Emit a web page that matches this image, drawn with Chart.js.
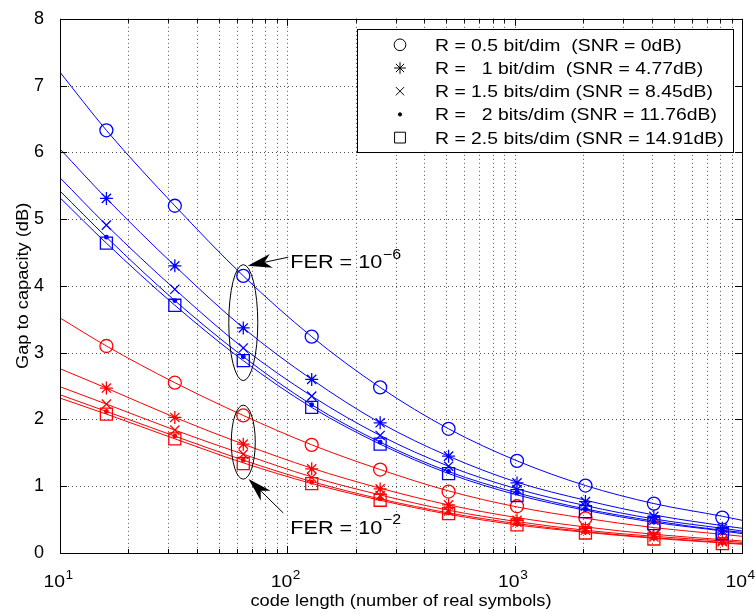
<!DOCTYPE html>
<html>
<head>
<meta charset="utf-8">
<script src="https://cdn.jsdelivr.net/npm/chart.js@4.4.1/dist/chart.umd.min.js"></script>
<style>
  body { margin: 0; background: #fff; }
  #wrap { width: 755px; height: 613px; }
</style>
</head>
<body>
<div id="wrap"><canvas id="gap" width="755" height="613"></canvas></div>
<script>
const ctxGap = document.getElementById("gap");

// simulated points (markers)
const codeLen = [16, 32, 64, 128, 256, 512, 1024, 2048, 4096, 8192];
// approximation curves, read at these lengths
const curveLen = [10, 16, 32, 64, 128, 256, 512, 1024, 2048, 4096, 8192, 10000];

// FER = 1e-6 (blue)
const blue05 = [6.33, 5.20, 4.15, 3.24, 2.48, 1.86, 1.38, 1.01, 0.74, 0.53];
const blue10 = [5.31, 4.30, 3.37, 2.60, 1.95, 1.45, 1.05, 0.77, 0.55, 0.37];
const blue15 = [4.91, 3.95, 3.07, 2.35, 1.76, 1.30, 0.95, 0.70, 0.49, 0.33];
const blue20 = [4.73, 3.78, 2.94, 2.22, 1.66, 1.22, 0.90, 0.65, 0.46, 0.31];
const blue25 = [4.64, 3.71, 2.88, 2.18, 1.63, 1.19, 0.86, 0.62, 0.44, 0.29];
const blue05Curve = [7.20, 6.33, 5.20, 4.15, 3.24, 2.48, 1.86, 1.38, 1.01, 0.74, 0.55, 0.49];
const blue10Curve = [6.05, 5.31, 4.30, 3.37, 2.60, 1.95, 1.45, 1.06, 0.79, 0.57, 0.41, 0.37];
const blue15Curve = [5.62, 4.91, 3.95, 3.07, 2.35, 1.76, 1.30, 0.96, 0.71, 0.51, 0.37, 0.33];
const blue20Curve = [5.42, 4.73, 3.78, 2.94, 2.22, 1.66, 1.22, 0.90, 0.66, 0.48, 0.34, 0.31];
const blue25Curve = [5.32, 4.64, 3.71, 2.88, 2.18, 1.63, 1.19, 0.87, 0.64, 0.46, 0.33, 0.29];

// FER = 1e-2 (red)
const red05 = [3.10, 2.55, 2.06, 1.62, 1.25, 0.92, 0.70, 0.52, 0.39, 0.28];
const red10 = [2.47, 2.03, 1.63, 1.26, 0.96, 0.72, 0.49, 0.37, 0.27, 0.19];
const red15 = [2.23, 1.84, 1.48, 1.13, 0.86, 0.63, 0.46, 0.34, 0.24, 0.17];
const red20 = [2.12, 1.75, 1.39, 1.06, 0.81, 0.60, 0.43, 0.31, 0.22, 0.15];
const red25 = [2.08, 1.71, 1.34, 1.04, 0.79, 0.59, 0.42, 0.30, 0.21, 0.14];
const red05Curve = [3.52, 3.10, 2.55, 2.06, 1.62, 1.25, 0.93, 0.69, 0.52, 0.38, 0.28, 0.25];
const red10Curve = [2.76, 2.47, 2.03, 1.63, 1.27, 0.97, 0.72, 0.53, 0.39, 0.28, 0.20, 0.18];
const red15Curve = [2.49, 2.23, 1.84, 1.48, 1.14, 0.87, 0.64, 0.47, 0.34, 0.25, 0.18, 0.16];
const red20Curve = [2.37, 2.12, 1.75, 1.39, 1.07, 0.81, 0.60, 0.44, 0.32, 0.23, 0.16, 0.14];
const red25Curve = [2.32, 2.08, 1.71, 1.35, 1.04, 0.79, 0.58, 0.42, 0.31, 0.22, 0.15, 0.13];

const legendLabels = [
    "R = 0.5 bit/dim  (SNR = 0dB)",
    "R =   1 bit/dim  (SNR = 4.77dB)",
    "R = 1.5 bits/dim (SNR = 8.45dB)",
    "R =   2 bits/dim (SNR = 11.76dB)",
    "R = 2.5 bits/dim (SNR = 14.91dB)"
];
const markerStyles = ["circle", "star", "crossRot", "circle", "rect"];
const markerSizes = [6.5, 6.5, 6.5, 1.8, 8.5];

const yTicks = [0, 1, 2, 3, 4, 5, 6, 7, 8];
const xDecades = [1, 2, 3, 4];

const BLUE = "#0000ff";
const RED = "#ff0000";
const FONT = "'Liberation Sans', Arial, Helvetica, sans-serif";
const SX = 1.14; // the original's Helvetica runs wider than Liberation Sans

const toPoints = (xs, ys) => xs.map((x, i) => ({ x: x, y: ys[i] }));

const datasets = [];
const addGroup = (color, curves, marks) => {
    curves.forEach(c => {
        datasets.push({
            type: "line",
            data: toPoints(curveLen, c),
            borderColor: color,
            borderWidth: 1,
            pointRadius: 0,
            cubicInterpolationMode: "monotone",
            fill: false,
            order: 2
        });
    });
    marks.forEach((m, i) => {
        datasets.push({
            type: "line",
            data: toPoints(codeLen, m),
            showLine: false,
            pointStyle: markerStyles[i],
            pointRadius: markerSizes[i],
            pointBorderColor: color,
            pointBackgroundColor: i === 3 ? color : "rgba(0,0,0,0)",
            pointBorderWidth: 1.3,
            order: 1
        });
    });
};
addGroup(BLUE, [blue05Curve, blue10Curve, blue15Curve, blue20Curve, blue25Curve],
    [blue05, blue10, blue15, blue20, blue25]);
addGroup(RED, [red05Curve, red10Curve, red15Curve, red20Curve, red25Curve],
    [red05, red10, red15, red20, red25]);

// stretched text, left aligned at baseline
const text = (ctx, t, x, y, size) => {
    ctx.save();
    ctx.font = size + "px " + FONT;
    ctx.textAlign = "left";
    ctx.textBaseline = "alphabetic";
    ctx.translate(x, y);
    ctx.scale(SX, 1);
    ctx.fillText(t, 0, 0);
    ctx.restore();
};
const textWidth = (ctx, t, size) => {
    ctx.font = size + "px " + FONT;
    return ctx.measureText(t).width * SX;
};

// base with raised exponent
const drawPow = (ctx, x, y, base, exp, size, align) => {
    const es = Math.round(size * 0.72);
    const wb = textWidth(ctx, base, size);
    const we = textWidth(ctx, exp, es);
    const left = align === "center" ? x - (wb + we) / 2 : x;
    text(ctx, base, left, y, size);
    text(ctx, exp, left + wb + 0.5, y - size * 0.5, es);
};

const arrow = (ctx, x0, y0, x1, y1) => {
    // line from (x0,y0) to tip (x1,y1) with a filled head
    const ang = Math.atan2(y1 - y0, x1 - x0);
    const len = 24, half = 7, notch = 17;
    ctx.beginPath();
    ctx.moveTo(x0, y0);
    ctx.lineTo(x1 - Math.cos(ang) * notch, y1 - Math.sin(ang) * notch);
    ctx.lineWidth = 1;
    ctx.stroke();
    const bx = x1 - Math.cos(ang) * len, by = y1 - Math.sin(ang) * len;
    const nx = -Math.sin(ang), ny = Math.cos(ang);
    ctx.beginPath();
    ctx.moveTo(x1, y1);
    ctx.lineTo(bx + nx * half, by + ny * half);
    ctx.lineTo(x1 - Math.cos(ang) * notch, y1 - Math.sin(ang) * notch);
    ctx.lineTo(bx - nx * half, by - ny * half);
    ctx.closePath();
    ctx.fill();
};

const matlabAxes = {
    id: "matlabAxes",
    beforeDatasetsDraw(chart) {
        const { ctx, chartArea: a, scales: { x, y } } = chart;
        ctx.save();
        ctx.strokeStyle = "rgba(0,0,0,0.7)";
        ctx.lineWidth = 1;
        ctx.setLineDash([1, 3]);
        yTicks.slice(1, -1).forEach(v => {
            const py = Math.round(y.getPixelForValue(v)) + 0.5;
            ctx.beginPath(); ctx.moveTo(a.left, py); ctx.lineTo(a.right, py); ctx.stroke();
        });
        xDecades.slice(0, -1).forEach(d => {
            for (let k = 1; k <= 9; k++) {
                if (d === 1 && k === 1) continue;
                const px = Math.round(x.getPixelForValue(k * Math.pow(10, d))) + 0.5;
                ctx.beginPath(); ctx.moveTo(px, a.top); ctx.lineTo(px, a.bottom); ctx.stroke();
            }
        });
        ctx.restore();
    },
    afterDatasetsDraw(chart) {
        const { ctx, chartArea: a, scales: { x, y } } = chart;
        ctx.save();
        ctx.strokeStyle = "#000";
        ctx.fillStyle = "#000";
        ctx.lineWidth = 1;
        ctx.setLineDash([]);
        // box
        ctx.strokeRect(Math.round(a.left) + 0.5, Math.round(a.top) + 0.5,
            Math.round(a.right - a.left), Math.round(a.bottom - a.top));
        // inward ticks
        yTicks.forEach(v => {
            const py = Math.round(y.getPixelForValue(v)) + 0.5;
            ctx.beginPath();
            ctx.moveTo(a.left, py); ctx.lineTo(a.left + 7, py);
            ctx.moveTo(a.right, py); ctx.lineTo(a.right - 7, py);
            ctx.stroke();
        });
        xDecades.forEach(d => {
            for (let k = 1; k <= 9; k++) {
                const v = k * Math.pow(10, d);
                if (v > 10000) break;
                const px = Math.round(x.getPixelForValue(v)) + 0.5;
                const tl = k === 1 ? 7 : 4;
                ctx.beginPath();
                ctx.moveTo(px, a.bottom); ctx.lineTo(px, a.bottom - tl);
                ctx.moveTo(px, a.top); ctx.lineTo(px, a.top + tl);
                ctx.stroke();
            }
        });
        // x tick labels 10^n
        xDecades.forEach(d => {
            const px = x.getPixelForValue(Math.pow(10, d));
            drawPow(ctx, px - 2, a.bottom + 34, "10", String(d), 17, "center");
        });
        // axis titles
        const xt = "code length (number of real symbols)";
        text(ctx, xt, (a.left + a.right) / 2 - textWidth(ctx, xt, 16) / 2, 606, 16);
        const yt = "Gap to capacity (dB)";
        ctx.save();
        ctx.translate(28, (a.top + a.bottom) / 2);
        ctx.rotate(-Math.PI / 2);
        text(ctx, yt, -textWidth(ctx, yt, 16) / 2, 0, 16);
        ctx.restore();

        // legend
        const lx = a.right - 385, ly = a.top + 10, lw = 376, lh = 123;
        ctx.fillStyle = "#fff";
        ctx.fillRect(lx, ly, lw, lh);
        ctx.strokeRect(Math.round(lx) + 0.5, Math.round(ly) + 0.5, lw, lh);
        legendLabels.forEach((t, i) => {
            const ry = ly + 16 + i * 23.2;
            ctx.fillStyle = i === 3 ? "#000" : "rgba(0,0,0,0)";
            Chart.helpers.drawPoint(ctx, {
                pointStyle: markerStyles[i], radius: markerSizes[i] * 0.9,
                rotation: 0, borderWidth: 1
            }, lx + 43, ry);
            ctx.fillStyle = "#000";
            text(ctx, t, lx + 78, ry + 6, 17);
        });

        // annotations: ellipses around the 64-symbol points
        ctx.lineWidth = 1;
        ctx.beginPath();
        ctx.ellipse(x.getPixelForValue(64), y.getPixelForValue(3.45), 14.5, 58, 0, 0, Math.PI * 2);
        ctx.stroke();
        ctx.beginPath();
        ctx.ellipse(x.getPixelForValue(64), y.getPixelForValue(1.66), 12, 37, 0, 0, Math.PI * 2);
        ctx.stroke();

        // arrows and FER labels
        const t1x = x.getPixelForValue(103), t1y = y.getPixelForValue(4.37);
        arrow(ctx, t1x - 2, t1y - 4, x.getPixelForValue(67), y.getPixelForValue(4.3));
        drawPow(ctx, t1x, t1y + 7, "FER = 10", "\u22126", 19, "left");
        const t2x = x.getPixelForValue(103), t2y = y.getPixelForValue(0.39);
        arrow(ctx, t2x - 7, t2y - 14, x.getPixelForValue(67.5), y.getPixelForValue(1.11));
        drawPow(ctx, t2x, t2y + 7, "FER = 10", "\u22122", 19, "left");
        ctx.restore();
    }
};

const graphGap = new Chart(ctxGap, {
    type: "line",
    data: { datasets: datasets },
    options: {
        responsive: false,
        animation: false,
        events: [],
        layout: { padding: { top: 14, right: 13, left: 0, bottom: 0 } },
        plugins: {
            legend: { display: false },
            tooltip: { enabled: false }
        },
        scales: {
            x: {
                type: "logarithmic",
                min: 10,
                max: 10000,
                grid: { display: false },
                border: { display: false },
                ticks: { display: false },
                afterFit: s => { s.height = 60; }
            },
            y: {
                type: "linear",
                min: 0,
                max: 8,
                grid: { display: false },
                border: { display: false },
                ticks: {
                    stepSize: 1,
                    color: "#000",
                    padding: 8,
                    font: { size: 18, family: FONT }
                },
                afterFit: s => { s.width = 60; }
            }
        }
    },
    plugins: [matlabAxes]
});
</script>
</body>
</html>
